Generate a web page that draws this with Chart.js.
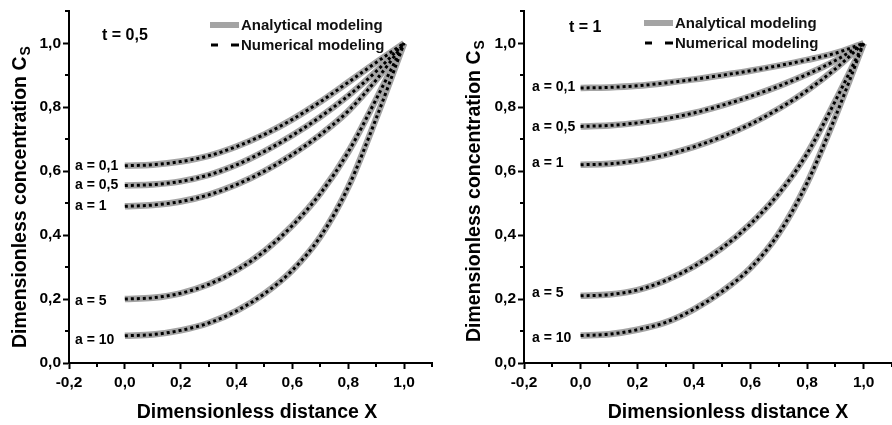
<!DOCTYPE html>
<html>
<head>
<meta charset="utf-8">
<script src="https://cdn.jsdelivr.net/npm/chart.js@4"></script>
<style>
  body { margin: 0; background: #fff; }
  #wrap { position: relative; width: 892px; height: 425px; }
  canvas { position: absolute; top: 0; }
</style>
</head>
<body>
<div id="wrap">
  <canvas id="c1" width="446" height="425" style="left:0"></canvas>
  <canvas id="c2" width="446" height="425" style="left:446px"></canvas>
</div>
<script>
const FONT = "'Liberation Sans', Arial, sans-serif";

// x positions of the computed points (dimensionless distance)
const X = [0, 0.1, 0.2, 0.3, 0.4, 0.5, 0.6, 0.7, 0.8, 0.9, 1.0];

// t = 0,5
const t05_a01 = [0.617, 0.62, 0.63, 0.648, 0.677, 0.715, 0.762, 0.817, 0.878, 0.94, 1.0];
const t05_a05 = [0.555, 0.558, 0.568, 0.588, 0.62, 0.662, 0.712, 0.77, 0.836, 0.912, 1.0];
const t05_a1  = [0.49, 0.494, 0.505, 0.526, 0.558, 0.6, 0.652, 0.714, 0.788, 0.885, 1.0];
const t05_a5  = [0.2, 0.204, 0.218, 0.246, 0.29, 0.35, 0.43, 0.53, 0.66, 0.825, 1.0];
const t05_a10 = [0.085, 0.089, 0.102, 0.125, 0.163, 0.217, 0.29, 0.395, 0.55, 0.765, 1.0];

// t = 1
const t1_a01 = [0.86, 0.862, 0.867, 0.876, 0.887, 0.9, 0.914, 0.93, 0.948, 0.969, 1.0];
const t1_a05 = [0.74, 0.743, 0.751, 0.764, 0.782, 0.806, 0.834, 0.866, 0.903, 0.946, 1.0];
const t1_a1  = [0.62, 0.623, 0.633, 0.651, 0.676, 0.708, 0.747, 0.795, 0.852, 0.92, 1.0];
const t1_a5  = [0.21, 0.214, 0.228, 0.258, 0.302, 0.36, 0.435, 0.53, 0.655, 0.82, 1.0];
const t1_a10 = [0.086, 0.09, 0.104, 0.127, 0.168, 0.224, 0.297, 0.405, 0.563, 0.77, 1.0];

const aLabels = ['a = 0,1', 'a = 0,5', 'a = 1', 'a = 5', 'a = 10'];
const xMajor = [-0.2, 0, 0.2, 0.4, 0.6, 0.8, 1.0];
const xMinor = [-0.1, 0.1, 0.3, 0.5, 0.7, 0.9, 1.1];
const yMajor = [0, 0.2, 0.4, 0.6, 0.8, 1.0];
const yMinor = [0.1, 0.3, 0.5, 0.7, 0.9, 1.1];

const GRAY = '#a4a4a4';

const fmt = v => v.toFixed(1).replace('.', ',');

// extra decorations: minor ticks, axis titles, legend, curve labels
const decor = {
  id: 'decor',
  afterDraw(chart, args, o) {
    const ctx = chart.ctx, xs = chart.scales.x, ys = chart.scales.y;
    const area = chart.chartArea;
    ctx.save();
    ctx.strokeStyle = '#000';
    ctx.lineWidth = 2;
    xMinor.forEach(v => {
      const p = Math.round(xs.getPixelForValue(v));
      ctx.beginPath(); ctx.moveTo(p, area.bottom); ctx.lineTo(p, area.bottom + 4); ctx.stroke();
    });
    yMinor.forEach(v => {
      const p = Math.round(ys.getPixelForValue(v));
      ctx.beginPath(); ctx.moveTo(area.left, p); ctx.lineTo(area.left - 4, p); ctx.stroke();
    });

    ctx.fillStyle = '#000';
    // x title
    ctx.font = 'bold 19.5px ' + FONT;
    ctx.textAlign = 'center';
    ctx.textBaseline = 'alphabetic';
    ctx.fillText('Dimensionless distance X', o.xTitleX, 418);

    // y title with subscript
    ctx.save();
    ctx.translate(o.yTitleX, o.yTitleBottom);
    ctx.rotate(-Math.PI / 2);
    ctx.textAlign = 'left';
    const main = 'Dimensionless concentration C';
    ctx.fillText(main, 0, 0);
    const w = ctx.measureText(main).width;
    ctx.font = 'bold 14px ' + FONT;
    ctx.fillText('S', w + 1, 4);
    ctx.restore();

    // time label
    ctx.font = 'bold 16px ' + FONT;
    ctx.textAlign = 'left';
    ctx.fillText(o.tLabel, o.tX, o.tY);

    // legend
    const lg = o.legend;
    ctx.strokeStyle = GRAY;
    ctx.lineWidth = 6;
    ctx.beginPath(); ctx.moveTo(lg.x, lg.y1); ctx.lineTo(lg.x + 29, lg.y1); ctx.stroke();
    ctx.strokeStyle = '#000';
    ctx.lineWidth = 3;
    ctx.beginPath(); ctx.moveTo(lg.x + 1, lg.y2); ctx.lineTo(lg.x + 8, lg.y2); ctx.stroke();
    ctx.beginPath(); ctx.moveTo(lg.x + 21, lg.y2); ctx.lineTo(lg.x + 29, lg.y2); ctx.stroke();
    ctx.font = 'bold 15px ' + FONT;
    ctx.fillStyle = '#111';
    ctx.textBaseline = 'middle';
    ctx.fillText('Analytical modeling', lg.x + 31, lg.y1 + 1);
    ctx.fillText('Numerical modeling', lg.x + 31, lg.y2 + 1);

    // curve labels at x = 0
    ctx.font = 'bold 14px ' + FONT;
    ctx.fillStyle = '#000';
    o.starts.forEach((v, i) => {
      const py = ys.getPixelForValue(v) + o.labelDy[i];
      ctx.fillText(aLabels[i], o.labelX, py);
    });
    ctx.restore();
  }
};

function makePanel(id, series, o) {
  const datasets = [];
  series.forEach((vals, i) => {
    datasets.push({
      label: 'Analytical ' + aLabels[i],
      data: X.map((x, j) => ({ x, y: vals[j] })),
      borderColor: GRAY,
      borderWidth: 6.5,
      pointRadius: 0,
      cubicInterpolationMode: 'monotone',
      order: 2
    });
  });
  series.forEach((vals, i) => {
    datasets.push({
      label: 'Numerical ' + aLabels[i],
      data: X.map((x, j) => ({ x, y: vals[j] })),
      borderColor: '#000',
      borderWidth: 3,
      borderDash: [3, 3],
      pointRadius: 0,
      cubicInterpolationMode: 'monotone',
      order: 1
    });
  });

  return new Chart(document.getElementById(id), {
    type: 'line',
    data: { datasets },
    plugins: [decor],
    options: {
      responsive: false,
      animation: false,
      layout: { padding: { top: o.padTop, right: o.padRight, left: 0, bottom: 0 } },
      plugins: {
        legend: { display: false },
        tooltip: { enabled: false },
        decor: o
      },
      scales: {
        x: {
          type: 'linear',
          min: -0.2,
          max: 1.1,
          afterBuildTicks: s => { s.ticks = xMajor.map(v => ({ value: v })); },
          afterFit: s => { s.height = 62; },
          border: { display: true, color: '#000', width: 2 },
          grid: { drawOnChartArea: false, drawTicks: true, tickLength: 6, tickWidth: 2, tickColor: '#000' },
          ticks: {
            autoSkip: false, maxRotation: 0, padding: 4, color: '#000',
            font: { family: FONT, size: 15.5, weight: 'bold' },
            callback: v => fmt(v)
          }
        },
        y: {
          min: 0,
          max: 1.1,
          afterBuildTicks: s => { s.ticks = yMajor.map(v => ({ value: v })); },
          afterFit: s => { s.width = o.yWidth; },
          border: { display: true, color: '#000', width: 2 },
          grid: { drawOnChartArea: false, drawTicks: true, tickLength: 6, tickWidth: 2, tickColor: '#000' },
          ticks: {
            padding: 2, color: '#000',
            font: { family: FONT, size: 15.5, weight: 'bold' },
            callback: v => fmt(v)
          }
        }
      }
    }
  });
}

makePanel('c1', [t05_a01, t05_a05, t05_a1, t05_a5, t05_a10], {
  padTop: 8, padRight: 14, yWidth: 69,
  xTitleX: 257, yTitleX: 26, yTitleBottom: 348,
  tLabel: 't = 0,5', tX: 102, tY: 40,
  legend: { x: 210, y1: 25, y2: 45 },
  starts: [t05_a01[0], t05_a05[0], t05_a1[0], t05_a5[0], t05_a10[0]],
  labelDy: [0, 0, 0, 2, 4],
  labelX: 75
});

makePanel('c2', [t1_a01, t1_a05, t1_a1, t1_a5, t1_a10], {
  padTop: 7, padRight: 0, yWidth: 78,
  xTitleX: 282, yTitleX: 34, yTitleBottom: 342,
  tLabel: 't = 1', tX: 123, tY: 32,
  legend: { x: 198, y1: 23, y2: 43 },
  starts: [t1_a01[0], t1_a05[0], t1_a1[0], t1_a5[0], t1_a10[0]],
  labelDy: [-1, 1, -2, -3, 3],
  labelX: 86
});
</script>
</body>
</html>
